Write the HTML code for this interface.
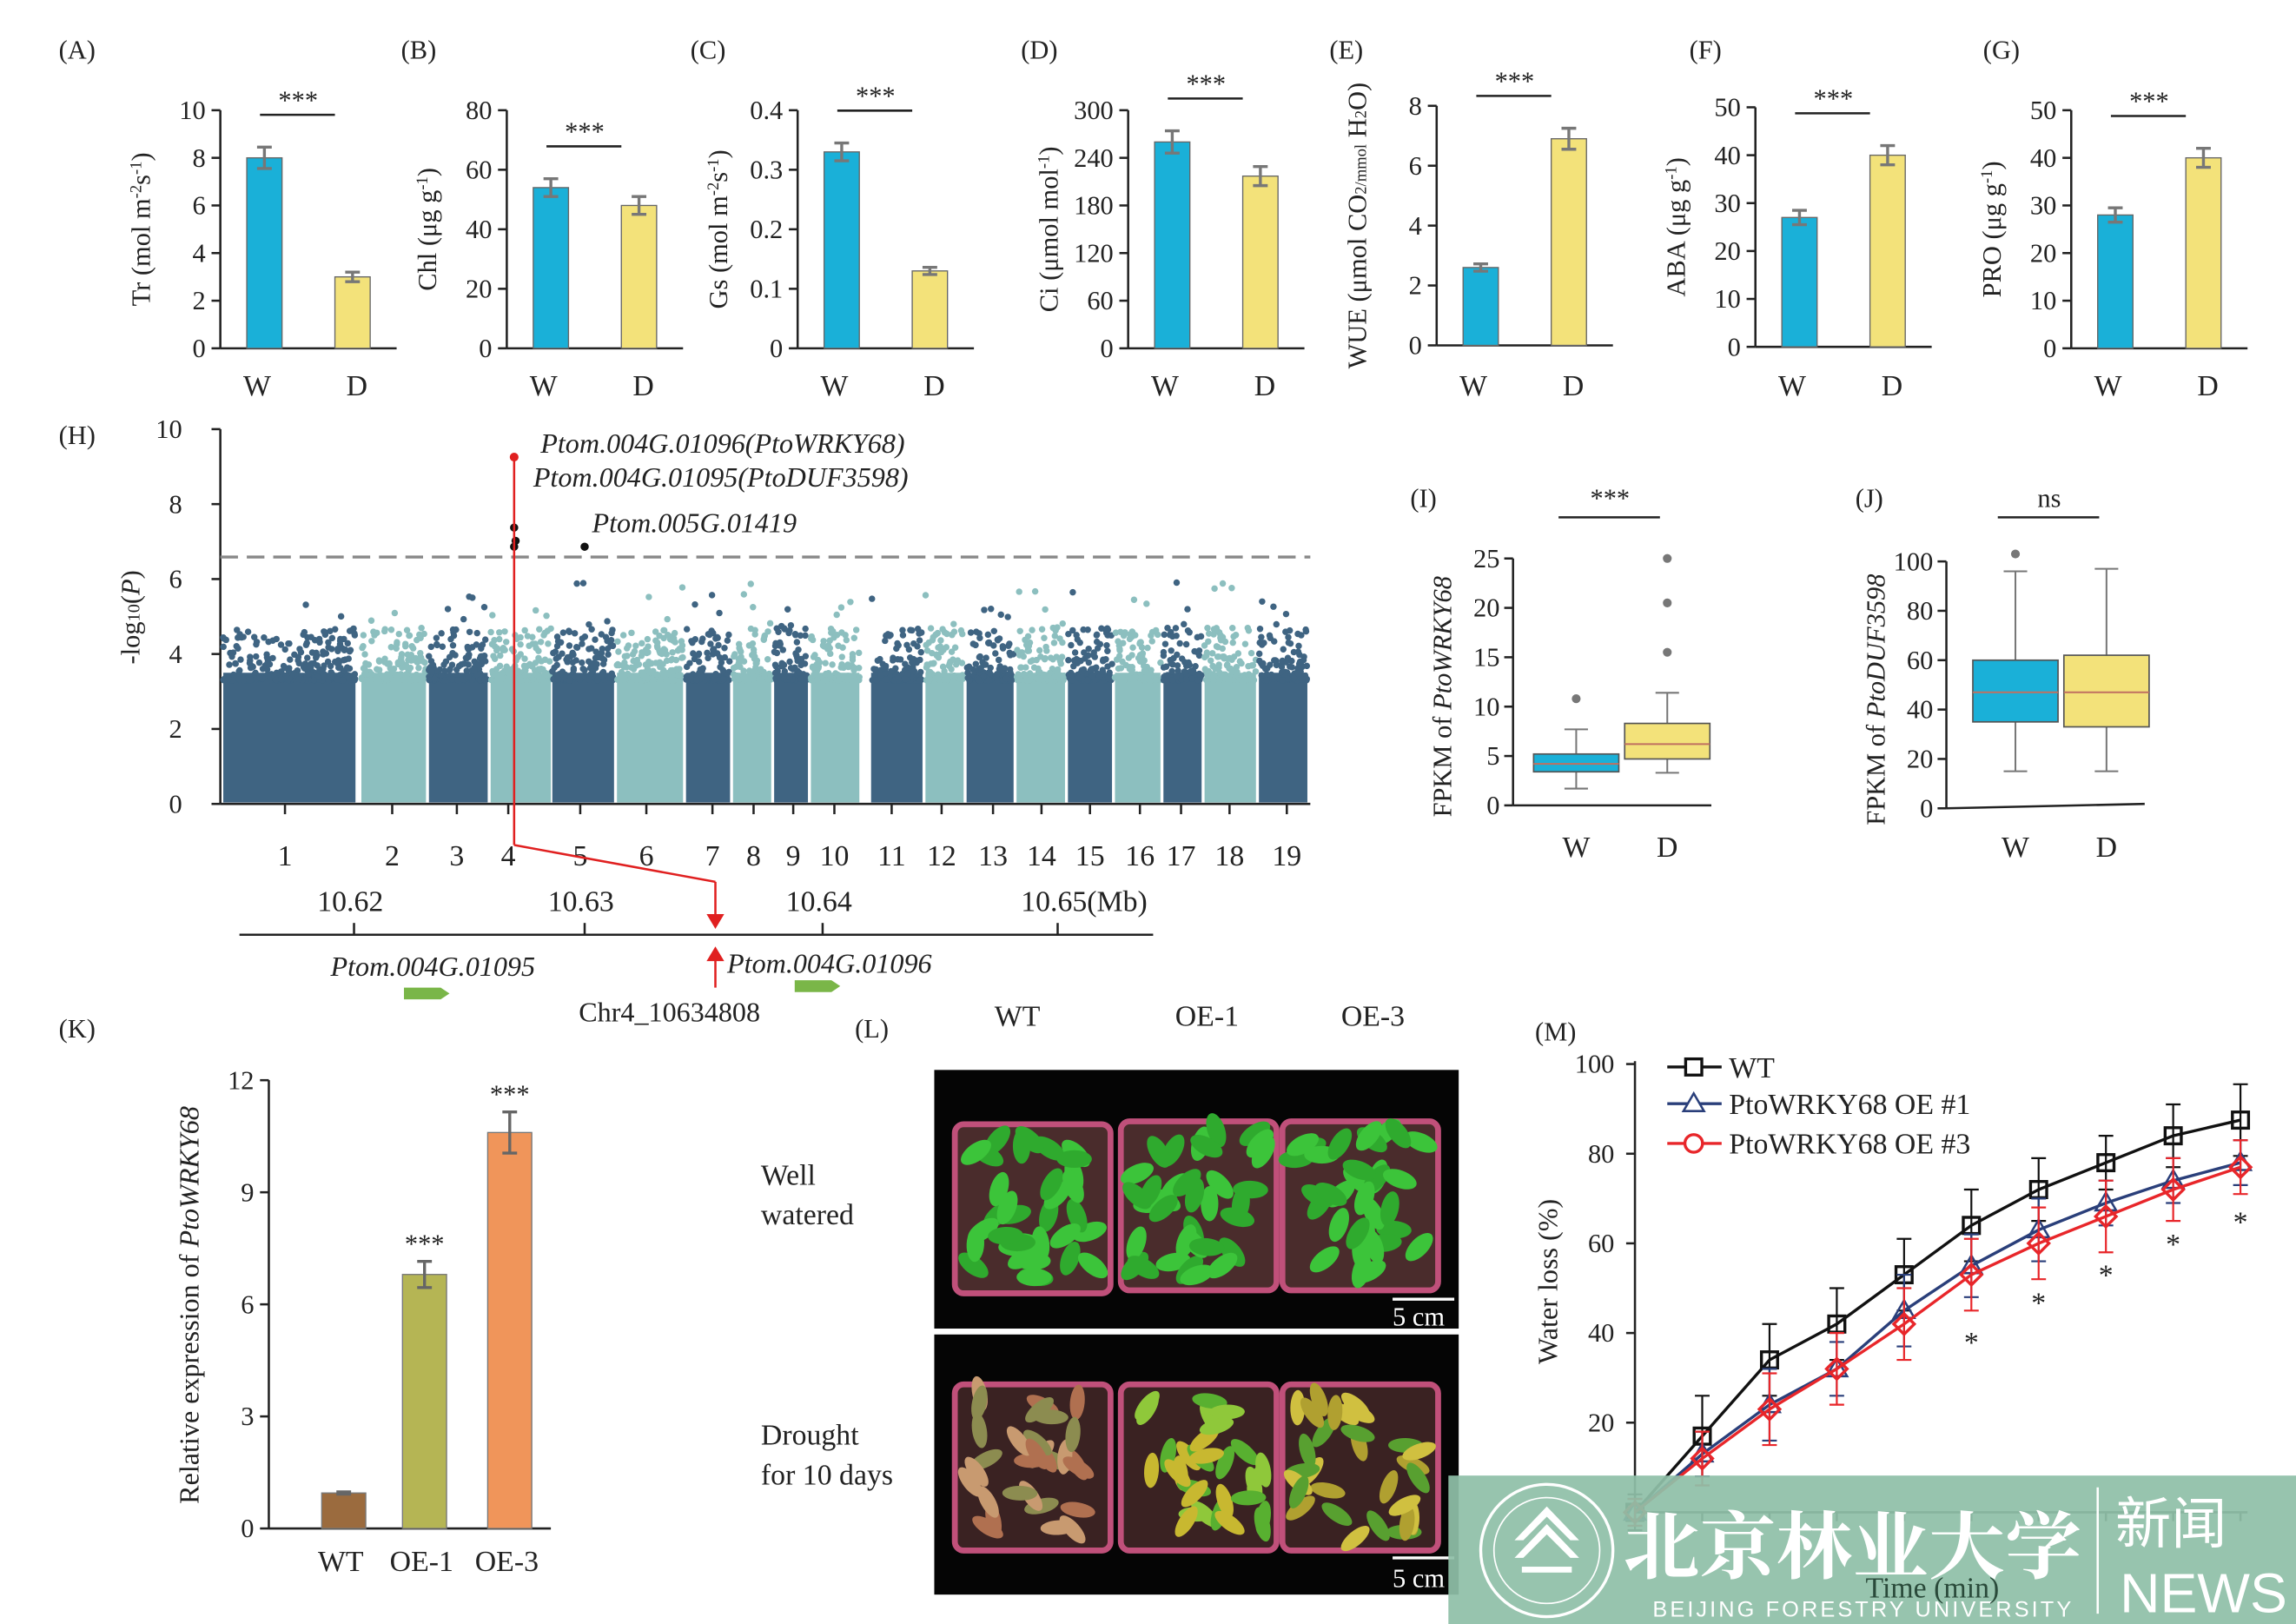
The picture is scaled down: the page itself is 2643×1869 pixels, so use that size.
<!DOCTYPE html>
<html><head><meta charset="utf-8"><style>
html,body{margin:0;padding:0;background:#fff}
svg{display:block}
text{font-family:"Liberation Serif",serif;fill:#222}
</style></head><body>
<svg id="s" width="2643" height="1869" viewBox="0 0 1563 1105" preserveAspectRatio="none" xmlns="http://www.w3.org/2000/svg">
<rect width="1563" height="1105" fill="#fff"/>
<g id="g"></g>
</svg>
<script>
var g=document.getElementById('g'),out='';
function L(x1,y1,x2,y2,c,w,ex){out+='<line x1="'+x1+'" y1="'+y1+'" x2="'+x2+'" y2="'+y2+'" stroke="'+(c||'#222')+'" stroke-width="'+(w||1.5)+'" '+(ex||'')+'/>';}
function R(x,y,w,h,f,ex){out+='<rect x="'+x+'" y="'+y+'" width="'+w+'" height="'+h+'" fill="'+f+'" '+(ex||'')+'/>';}
function T(x,y,s,sz,ex){out+='<text x="'+x+'" y="'+y+'" font-size="'+(sz||18)+'" '+(ex||'')+'>'+s+'</text>';}
function C(x,y,r,f,ex){out+='<circle cx="'+x+'" cy="'+y+'" r="'+r+'" fill="'+f+'" '+(ex||'')+'/>';}
var BL='#1ab0d8',YE='#f3e27a';
var P=[
['(A)',40,150,75,237,10,2,8,.45,3,.2,'Tr (mol m<tspan font-size="11" dy="-6">-2</tspan><tspan dy="6">s</tspan><tspan font-size="11" dy="-6">-1</tspan><tspan dy="6">)</tspan>',''],
['(B)',273,345,75,237,80,20,54,3,48,3,'Chl (μg g<tspan font-size="11" dy="-6">-1</tspan><tspan dy="6">)</tspan>',''],
['(C)',470,543,75,237,.4,.1,.33,.015,.13,.006,'Gs (mol m<tspan font-size="11" dy="-6">-2</tspan><tspan dy="6">s</tspan><tspan font-size="11" dy="-6">-1</tspan><tspan dy="6">)</tspan>',''],
['(D)',695,768,75,237,300,60,260,14,217,12,'Ci (μmol mol<tspan font-size="11" dy="-6">-1</tspan><tspan dy="6">)</tspan>',''],
['(E)',905,978,72,235,8,2,2.6,.12,6.9,.35,'WUE (μmol CO<tspan font-size="11">2/mmol</tspan> H<tspan font-size="11">2</tspan>O)',''],
['(F)',1150,1195,73,236,50,10,27,1.5,40,2,'ABA (μg g<tspan font-size="11" dy="-6">-1</tspan><tspan dy="6">)</tspan>',''],
['(G)',1350,1410,75,237,50,10,28,1.5,40,2,'PRO (μg g<tspan font-size="11" dy="-6">-1</tspan><tspan dy="6">)</tspan>','']];
P.forEach(function(p){
 var ax=p[2],top=p[3],bot=p[4],mx=p[5],st=p[6];
 function Y(v){return bot-(bot-top)*v/mx;}
 T(p[1],40,p[0],18);
 L(ax,top,ax,bot);L(ax,bot,ax+120,bot);
 for(var v=0;v<=mx+1e-9;v+=st){var y=Y(v);L(ax-6,y,ax,y);T(ax-10,y+6,(Math.round(v*10)/10)+'',18,'text-anchor="end"');}
 var xs=[ax+30,ax+90],vals=[[p[7],p[8]],[p[9],p[10]]],cols=[BL,YE];
 for(var i=0;i<2;i++){var y=Y(vals[i][0]);R(xs[i]-12,y,24,bot-y,cols[i],'stroke="#666" stroke-width="0.8"');
  var e1=Y(vals[i][0]+vals[i][1]),e2=Y(vals[i][0]-vals[i][1]);L(xs[i],e1,xs[i],e2,'#777',2);L(xs[i]-5,e1,xs[i]+5,e1,'#777',2);L(xs[i]-5,e2,xs[i]+5,e2,'#777',2);}
 T(xs[0]-5,269,'W',20,'text-anchor="middle"');T(xs[1]+3,269,'D',20,'text-anchor="middle"');
 var sy=Math.min(Y(p[7]+p[8]),Y(p[9]+p[10]))-22;L(xs[0]-3,sy,xs[1]-12,sy,'#222',1.5);T((xs[0]+xs[1])/2-7,sy-4,'***',18,'text-anchor="middle"');
 T(0,0,p[11],18,'transform="translate('+(ax-48)+','+((top+bot)/2)+') rotate(-90)" text-anchor="middle"');
});
T(40,302,'(H)',18);
var HX=150,HT=292,HB=547;function HY(v){return HB-(HB-HT)*v/10;}
L(HX,HT,HX,HB);L(HX,HB,892,HB);
for(var v=0;v<=10;v+=2){L(HX-6,HY(v),HX,HY(v));T(HX-26,HY(v)+6,v+'',18,'text-anchor="end"');}
T(0,0,'-log<tspan font-size="12">10</tspan>(<tspan font-style="italic">P</tspan>)',18,'transform="translate(95,420) rotate(-90)" text-anchor="middle"');
var ch=[[152,242],[246,290],[292,332],[334,375],[376,418],[420,465],[467,497],[499,525],[527,550],[552,585],[593,628],[630,656],[658,690],[692,725],[727,757],[759,790],[792,818],[820,855],[857,890]];
var lab=[194,267,311,346,395,440,485,513,540,568,607,641,676,709,742,776,804,837,876];
var seed=7;function rnd(){seed=(seed*16807)%2147483647;return seed/2147483647;}
ch.forEach(function(c,i){var col=i%2?'#8cbfbf':'#3f6482';
 R(c[0],HY(3.5),c[1]-c[0],HB-HY(3.5)-1,col);
 for(var k=0;k<(c[1]-c[0])*3;k++){var x=c[0]+rnd()*(c[1]-c[0]);var v=3.3+Math.pow(rnd(),2.5)*1.4;C(x.toFixed(1),HY(v).toFixed(1),2.2,col);}
 for(var k=0;k<5;k++){var x=c[0]+rnd()*(c[1]-c[0]);var v=4.5+Math.pow(rnd(),2)*1.5;C(x.toFixed(1),HY(v).toFixed(1),2.2,col);}
 L(lab[i],HB,lab[i],HB+7);T(lab[i],589,(i+1)+'',20,'text-anchor="middle"');
});
L(150,379,892,379,'#888',2,'stroke-dasharray="12,6"');
C(350,311,3,'#e02020');C(350,359,2.8,'#111');C(351,368,2.8,'#111');C(350,372,2.8,'#111');C(398,372,2.8,'#111');
L(350,311,350,575,'#e02020',1.5);L(350,575,487,600,'#e02020',1.5);L(487,600,487,628,'#e02020',1.5);
out+='<polygon points="481,622 493,622 487,632" fill="#e02020"/>';
T(368,308,'Ptom.004G.01096(PtoWRKY68)',19,'font-style="italic"');
T(363,331,'Ptom.004G.01095(PtoDUF3598)',19,'font-style="italic"');
T(403,362,'Ptom.005G.01419',19,'font-style="italic"');
L(163,636,785,636,'#222',1.5);
[[241,'10.62'],[398,'10.63'],[560,'10.64'],[720,'10.65(Mb)']].forEach(function(t){L(t[0],628,t[0],636);T(t[0]-25,620,t[1],20);});
T(225,664,'Ptom.004G.01095',19,'font-style="italic"');T(495,662,'Ptom.004G.01096',19,'font-style="italic"');
out+='<polygon points="275,672 300,672 306,676 300,680 275,680" fill="#7ab648"/><polygon points="541,667 566,667 572,671 566,675 541,675" fill="#7ab648"/>';
L(487,672,487,652,'#e02020',1.5);out+='<polygon points="481,654 493,654 487,644" fill="#e02020"/>';
T(394,695,'Chr4_10634808',19,'font-family="Liberation Sans"');
function box(lbl,lx,ax,top,bot,mx,st,ylab,b,sig,slant){
 function Y(v){return bot-(bot-top)*v/mx;}
 T(lx,345,lbl,18);L(ax,top,ax,bot);L(ax,bot,ax+135,bot-(slant||0));
 for(var v=0;v<=mx;v+=st){L(ax-6,Y(v),ax,Y(v));T(ax-9,Y(v)+6,v+'',18,'text-anchor="end"');}
 T(0,0,ylab,18,'transform="translate('+(ax-42)+','+((top+bot)/2+10)+') rotate(-90)" text-anchor="middle"');
 b.forEach(function(q){var x=q[0];L(x,Y(q[1]),x,Y(q[5]),'#777',1.2);L(x-8,Y(q[1]),x+8,Y(q[1]),'#777',1.2);L(x-8,Y(q[5]),x+8,Y(q[5]),'#777',1.2);
  R(x-29,Y(q[4]),58,Y(q[2])-Y(q[4]),q[6],'stroke="#555" stroke-width="1"');L(x-29,Y(q[3]),x+29,Y(q[3]),'#c07060',1.2);
  q[7].forEach(function(o){C(x,Y(o),3,'#777');});});
 L(b[0][0]-12,352,b[1][0]-5,352,'#222',1.5);T((b[0][0]+b[1][0])/2-8,345,sig,18,'text-anchor="middle"');
 T(b[0][0],583,'W',20,'text-anchor="middle"');T(b[1][0],583,'D',20,'text-anchor="middle"');
}
box('(I)',960,1030,380,548,25,5,'FPKM of <tspan font-style="italic">PtoWRKY68</tspan>',[[1073,1.7,3.4,4.2,5.2,7.7,BL,[10.8]],[1135,3.3,4.7,6.2,8.3,11.4,YE,[15.5,20.5,25]]],'***');
box('(J)',1263,1325,382,550,100,20,'FPKM of <tspan font-style="italic">PtoDUF3598</tspan>',[[1372,15,35,47,60,96,BL,[103]],[1434,15,33,47,62,97,YE,[]]],'ns',3);
T(40,706,'(K)',18);
(function(){var ax=183,top=735,bot=1040,mx=12;function Y(v){return bot-(bot-top)*v/mx;}
 L(ax,top,ax,bot);L(ax,bot,375,bot);
 for(var v=0;v<=12;v+=3){L(ax-6,Y(v),ax,Y(v));T(ax-10,Y(v)+6,v+'',18,'text-anchor="end"');}
 T(0,0,'Relative expression of <tspan font-style="italic">PtoWRKY68</tspan>',19,'transform="translate(135,888) rotate(-90)" text-anchor="middle"');
 [[234,.95,.03,'#9b6b3e','WT'],[289,6.8,.35,'#b5b554','OE-1'],[347,10.6,.55,'#f0955a','OE-3']].forEach(function(b,i){
  R(b[0]-15,Y(b[1]),30,bot-Y(b[1]),b[3],'stroke="#777" stroke-width="0.8"');
  var e1=Y(b[1]+b[2]),e2=Y(b[1]-b[2]);L(b[0],e1,b[0],e2,'#666',2);L(b[0]-5,e1,b[0]+5,e1,'#666',2);L(b[0]-5,e2,b[0]+5,e2,'#666',2);
  if(i)T(b[0],e1-6,'***',18,'text-anchor="middle"');T(b[0]-2,1069,b[4],20,'text-anchor="middle"');});
})();
T(582,706,'(L)',18);T(677,698,'WT',20);T(800,698,'OE-1',20);T(913,698,'OE-3',20);
T(518,806,'Well',20);T(518,833,'watered',20);T(518,983,'Drought',20);T(518,1010,'for 10 days',20);
R(636,728,357,176,'#050505');R(636,908,357,177,'#050505');
[[650,765],[763,763],[873,763]].forEach(function(p){R(p[0],p[1],106,115,'#4a2c2c','stroke="#c0507a" stroke-width="4" rx="6"');
 for(var k=0;k<34;k++){var x=p[0]+8+rnd()*90,y=p[1]+6+rnd()*100;out+='<ellipse cx="'+x.toFixed(1)+'" cy="'+y.toFixed(1)+'" rx="12" ry="6" fill="'+(rnd()>.5?'#3cc43a':'#2faa2e')+'" transform="rotate('+(rnd()*180).toFixed(0)+' '+x.toFixed(1)+' '+y.toFixed(1)+')"/>';}});
[[650,942,['#c89a70','#b07050','#8c8c50']],[763,942,['#58b030','#8fc83a','#c8b830']],[873,942,['#b0a030','#58a030','#d0c040']]].forEach(function(p){R(p[0],p[1],106,113,'#3a2222','stroke="#c0507a" stroke-width="4" rx="6"');
 for(var k=0;k<30;k++){var x=p[0]+8+rnd()*90,y=p[1]+6+rnd()*100;out+='<ellipse cx="'+x.toFixed(1)+'" cy="'+y.toFixed(1)+'" rx="12" ry="5" fill="'+p[2][k%3]+'" transform="rotate('+(rnd()*180).toFixed(0)+' '+x.toFixed(1)+' '+y.toFixed(1)+')"/>';}});
L(948,884,990,884,'#fff',2);out+='<text x="948" y="902" font-size="18" style="fill:#fff">5 cm</text>';
L(948,1060,990,1060,'#fff',2);out+='<text x="948" y="1080" font-size="18" style="fill:#fff">5 cm</text>';
T(1045,708,'(M)',18);
(function(){var ax=1113,bot=1029;function Y(v){return bot-v*3.05;}function X(t){return ax+t*4.58;}
 L(ax,722,ax,bot+10);L(ax,bot,1530,bot);
 for(var v=20;v<=100;v+=20){L(ax-6,Y(v),ax,Y(v));T(ax-14,Y(v)+6,v+'',18,'text-anchor="end"');}
 for(var t=10;t<=90;t+=10)L(X(t),bot,X(t),bot+6);
 T(0,0,'Water loss (%)',19,'transform="translate(1060,872) rotate(-90)" text-anchor="middle"');
 var ts=[0,10,20,30,40,50,60,70,80,90];
 var S=[['#111',[0,17,34,42,53,64,72,78,84,87.5],[4,9,8,8,8,8,7,6,7,8],'sq'],['#2a3f7a',[0,13,24,32,45,55,63,69,74,78],[3,5,8,6,8,7,7,5,5,5],'tri'],['#e8262a',[0,12,23,32,42,53,60,66,72,77],[3,6,8,8,8,8,8,8,7,6],'ci']];
 S.forEach(function(s){var pts=ts.map(function(t,i){return X(t)+','+Y(s[1][i]);}).join(' ');
  s[1].forEach(function(v,i){var x=X(ts[i]);L(x,Y(v+s[2][i]),x,Y(v-s[2][i]),s[0],1.3);L(x-5,Y(v+s[2][i]),x+5,Y(v+s[2][i]),s[0],1.3);L(x-5,Y(v-s[2][i]),x+5,Y(v-s[2][i]),s[0],1.3);});
  out+='<polyline points="'+pts+'" fill="none" stroke="'+s[0]+'" stroke-width="2"/>';
  s[1].forEach(function(v,i){var x=X(ts[i]),y=Y(v);
   if(s[3]=='sq')R(x-5.5,y-5.5,11,11,'none','stroke="'+s[0]+'" stroke-width="2"');
   else if(s[3]=='tri')out+='<polygon points="'+x+','+(y-7)+' '+(x-7)+','+(y+5)+' '+(x+7)+','+(y+5)+'" fill="none" stroke="'+s[0]+'" stroke-width="1.5"/>';
   else out+='<polygon points="'+x+','+(y-7)+' '+(x+7)+','+y+' '+x+','+(y+7)+' '+(x-7)+','+y+'" fill="none" stroke="'+s[0]+'" stroke-width="2"/>';});});
 [[50,920],[60,893],[70,874],[80,853],[90,838]].forEach(function(a){T(X(a[0]),a[1],'*',20,'text-anchor="middle"');});
 [['#111','sq',726,'WT'],['#2a3f7a','tri',751,'PtoWRKY68 OE #1'],['#e8262a','ci',778,'PtoWRKY68 OE #3']].forEach(function(l){
  L(1135,l[2],1172,l[2],l[0],2);var x=1153,y=l[2];
  if(l[1]=='sq')R(x-5.5,y-5.5,11,11,'#fff','stroke="'+l[0]+'" stroke-width="2"');else if(l[1]=='tri')out+='<polygon points="'+x+','+(y-7)+' '+(x-7)+','+(y+5)+' '+(x+7)+','+(y+5)+'" fill="#fff" stroke="'+l[0]+'" stroke-width="1.5"/>';else C(x,y,6,'#fff','stroke="'+l[0]+'" stroke-width="2"');
  T(1177,y+7,l[3],20);});
})();
R(986,1004,577,101,'#8fc0a8','opacity="0.93"');
out+='<circle cx="1053" cy="1055" r="45" fill="none" stroke="#fff" stroke-width="2"/><circle cx="1053" cy="1055" r="36" fill="none" stroke="#fff" stroke-width="1"/>';
out+='<polygon points="1053,1025 1075,1048 1069,1048 1053,1032 1037,1048 1031,1048" fill="#fff"/><polygon points="1053,1037 1075,1060 1069,1060 1053,1044 1037,1060 1031,1060" fill="#fff"/><rect x="1036" y="1066" width="34" height="4" fill="#fff"/>';
out+='<text x="1105" y="1070" font-size="50" font-weight="bold" textLength="312" lengthAdjust="spacingAndGlyphs" style="fill:#fff;font-family:\'Noto Serif CJK SC\',serif">北京林业大学</text>';
out+='<text x="1125" y="1100" font-size="15" textLength="285" style="fill:#fff;font-family:\'Liberation Sans\',sans-serif">BEIJING FORESTRY UNIVERSITY</text>';
L(1428,1012,1428,1098,'#fff',1.5);
out+='<text x="1440" y="1050" font-size="38" style="fill:#fff;font-family:\'Noto Sans CJK SC\',sans-serif">新闻</text>';
out+='<text x="1443" y="1097" font-size="38" style="fill:#fff;font-family:\'Liberation Sans\',sans-serif">NEWS</text>';
out+='<text x="1270" y="1087" font-size="20" style="fill:#2a4a3a">Time (min)</text>';
g.innerHTML=out;
</script>
</body></html>
